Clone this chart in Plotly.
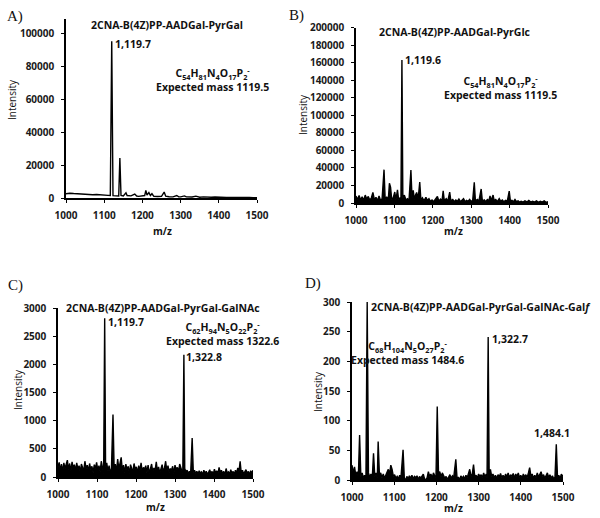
import plotly.graph_objects as go

# ---- data ----
A_MZ = [1000, 1010, 1020, 1030, 1040, 1050, 1060, 1070, 1080, 1090, 1100, 1110, 1116, 1119.7, 1123,
        1130, 1138, 1141, 1144, 1150, 1157, 1160, 1170, 1180, 1185, 1190, 1200, 1206, 1209, 1212,
        1217, 1221, 1225, 1230, 1240, 1250, 1257, 1261, 1270, 1280, 1290, 1295, 1300, 1310, 1315,
        1320, 1330, 1340, 1345, 1350, 1360, 1370, 1380, 1390, 1400, 1410, 1420, 1430, 1440, 1450,
        1460, 1470, 1480, 1490, 1500]
A_INT = [2600, 2900, 2700, 2500, 2600, 2300, 2200, 2000, 2100, 1800, 1700, 1600, 1500, 95500, 1400,
         1300, 1200, 24300, 1500, 1200, 3200, 1500, 1300, 2400, 1200, 1000, 1100, 1500, 4600, 1800,
         3300, 1500, 2600, 1000, 900, 1000, 3600, 1100, 800, 700, 1500, 700, 700, 1300, 700,
         600, 600, 1100, 600, 500, 700, 500, 500, 600, 400, 600, 400, 400, 300, 400,
         300, 300, 300, 250, 200]

B_MZ = [1000, 1004, 1008, 1012, 1016, 1020, 1024, 1028, 1032, 1036, 1040, 1044, 1048, 1052, 1056,
        1060, 1064, 1068, 1073, 1076, 1080, 1084, 1087, 1090, 1093, 1097, 1101, 1104, 1108, 1111,
        1115, 1117, 1119.6, 1122, 1126, 1130, 1134, 1138, 1143, 1146, 1149, 1152, 1155, 1158, 1162,
        1166, 1169, 1173, 1177, 1182, 1186, 1190, 1194, 1198, 1202, 1206, 1212, 1216, 1220, 1224,
        1227, 1230, 1235, 1239, 1244, 1247, 1252, 1256, 1260, 1264, 1268, 1272, 1276, 1280, 1284,
        1288, 1292, 1296, 1300, 1304, 1308, 1311, 1316, 1320, 1326, 1329, 1334, 1338, 1342, 1346,
        1349, 1352, 1357, 1360, 1364, 1368, 1373, 1377, 1381, 1385, 1390, 1394, 1399, 1402, 1406,
        1410, 1414, 1418, 1422, 1426, 1430, 1435, 1440, 1445, 1450, 1455, 1460, 1465, 1470, 1475,
        1480, 1485, 1490, 1495, 1500]
B_INT = [8000, 4000, 8500, 3500, 7000, 3000, 9000, 4500, 7500, 3000, 6000, 12000, 3500, 6500, 2500,
         8000, 3000, 5000, 38000, 4000, 7000, 3000, 22500, 18000, 4000, 6000, 12500, 3500, 15000, 4000,
         6000, 3000, 163000, 6000, 9000, 3500, 5000, 3000, 37500, 5000, 14500, 4000, 9000, 12000, 5000,
         24000, 3500, 6000, 2500, 6500, 3000, 5000, 2000, 3500, 1500, 4000, 7500, 2000, 4500, 2500,
         14000, 2500, 5000, 2000, 12500, 2500, 4000, 1500, 3500, 2000, 4500, 1500, 3500, 5000, 1500,
         3000, 2000, 4000, 1500, 3500, 23500, 2500, 4000, 2000, 16000, 2500, 3500, 1500, 4000, 2500,
         8000, 3000, 9000, 2500, 4000, 1500, 5000, 2000, 3500, 1500, 3000, 2000, 13500, 2500, 3000,
         1500, 4000, 1500, 2500, 1000, 2000, 1000, 2500, 1200, 3000, 1000, 2000, 1000, 2500, 800,
         2000, 1000, 2500, 800, 1500]

C_MZ = [1000, 1003, 1006, 1009, 1012, 1015, 1018, 1021, 1024, 1027, 1030, 1033, 1036, 1039, 1042,
        1045, 1048, 1051, 1054, 1057, 1060, 1063, 1066, 1069, 1072, 1075, 1078, 1081, 1084, 1087,
        1090, 1093, 1096, 1099, 1102, 1105, 1108, 1111, 1114, 1117, 1119.7, 1122, 1125, 1128, 1131,
        1134, 1137, 1141, 1144, 1147, 1150, 1153, 1156, 1159, 1162, 1165, 1168, 1171, 1174, 1177,
        1180, 1183, 1186, 1189, 1192, 1195, 1198, 1201, 1204, 1207, 1210, 1213, 1216, 1219, 1222,
        1225, 1228, 1231, 1234, 1237, 1240, 1243, 1246, 1249, 1252, 1255, 1258, 1261, 1264, 1267,
        1270, 1273, 1276, 1279, 1282, 1285, 1288, 1291, 1294, 1297, 1300, 1303, 1306, 1309, 1312,
        1315, 1318, 1320, 1322.8, 1325, 1328, 1331, 1334, 1337, 1340, 1344, 1347, 1350, 1353, 1356,
        1359, 1362, 1365, 1368, 1371, 1374, 1377, 1380, 1383, 1386, 1389, 1392, 1395, 1398, 1401,
        1404, 1407, 1410, 1413, 1416, 1419, 1422, 1425, 1428, 1431, 1434, 1437, 1440, 1443, 1446,
        1449, 1452, 1455, 1458, 1461, 1464, 1467, 1470, 1473, 1476, 1479, 1482, 1485, 1488, 1491,
        1494, 1497, 1500]
C_INT = [180, 260, 120, 230, 90, 250, 150, 210, 300, 130, 240, 100, 270, 160, 220,
         110, 250, 140, 200, 90, 230, 170, 120, 280, 150, 210, 100, 240, 130, 190,
         80, 220, 150, 260, 120, 200, 90, 280, 140, 60, 2820, 180, 250, 100, 200,
         70, 150, 1110, 120, 230, 90, 320, 140, 260, 350, 110, 210, 80, 230, 120,
         190, 60, 220, 150, 100, 240, 130, 180, 70, 200, 110, 250, 90, 170, 130,
         200, 80, 210, 60, 150, 230, 90, 160, 120, 270, 100, 180, 70, 150, 220,
         90, 160, 280, 110, 200, 80, 150, 120, 190, 60, 210, 130, 170, 90, 230,
         140, 100, 60, 2170, 150, 90, 120, 60, 100, 50, 690, 80, 120, 60, 100,
         50, 110, 70, 90, 40, 120, 60, 100, 50, 80, 130, 60, 100, 40, 140,
         70, 110, 50, 170, 80, 120, 60, 100, 40, 150, 70, 90, 50, 130, 60,
         100, 40, 120, 70, 160, 90, 280, 60, 120, 50, 90, 130, 60, 100, 40,
         110, 70, 120]

D_MZ = [1000, 1003, 1006, 1009, 1012, 1015, 1018, 1021, 1024, 1027, 1030, 1033, 1036, 1039, 1042,
        1045, 1048, 1051, 1054, 1057, 1060, 1062, 1065, 1068, 1071, 1074, 1077, 1080, 1083, 1086,
        1089, 1092, 1095, 1098, 1101, 1104, 1107, 1110, 1113, 1116, 1121, 1124, 1127, 1130, 1133,
        1136, 1139, 1142, 1145, 1148, 1151, 1154, 1157, 1160, 1163, 1166, 1169, 1172, 1175, 1178,
        1181, 1184, 1187, 1190, 1193, 1196, 1199, 1202, 1205, 1208, 1211, 1214, 1217, 1220, 1223,
        1226, 1229, 1232, 1235, 1238, 1241, 1246, 1249, 1252, 1255, 1258, 1261, 1264, 1267, 1270,
        1273, 1276, 1279, 1282, 1285, 1288, 1291, 1294, 1297, 1300, 1303, 1306, 1309, 1312, 1315,
        1318, 1320, 1322.7, 1325, 1328, 1331, 1334, 1337, 1340, 1343, 1346, 1349, 1352, 1355, 1358,
        1361, 1364, 1367, 1370, 1373, 1376, 1379, 1382, 1385, 1388, 1391, 1394, 1397, 1400, 1403,
        1406, 1409, 1412, 1415, 1418, 1421, 1424, 1427, 1430, 1433, 1436, 1439, 1442, 1445, 1448,
        1451, 1454, 1457, 1460, 1463, 1466, 1469, 1472, 1475, 1478, 1481, 1484.1, 1487, 1490, 1493,
        1496, 1500]
D_INT = [25, 12, 22, 8, 14, 5, 76, 6, 12, 4, 8, 2, 300, 12, 5,
         10, 3, 45, 6, 12, 4, 65, 8, 12, 4, 10, 3, 8, 14, 18,
         10, 25, 18, 6, 9, 3, 6, 2, 8, 4, 51, 3, 0, 6, 2,
         7, 3, 8, 2, 6, 4, 7, 1, 6, 3, 8, 10, 2, 0, 4,
         14, 6, 10, 3, 12, 7, 4, 124, 10, 14, 5, 12, 8, 3, 6,
         1, 5, 9, 3, 7, 4, 35, 2, 5, 0, 7, 3, 6, 2, 8,
         4, 10, 18, 6, 10, 26, 5, 8, 3, 10, 6, 9, 4, 12, 5,
         10, 4, 241, 12, 18, 6, 10, 4, 8, 2, 9, 5, 11, 4, 8,
         3, 10, 5, 12, 4, 9, 6, 11, 3, 10, 6, 12, 4, 8, 3,
         10, 5, 9, 4, 12, 21, 6, 10, 3, 8, 4, 12, 5, 10, 14,
         6, 9, 3, 8, 12, 4, 9, 3, 7, 2, 5, 60, 4, 8, 2,
         10, 6]

X_TICKS = [1000, 1100, 1200, 1300, 1400, 1500]

W, H = 600, 518
FONT = "Open Sans"


def px(x):
    return x / W


def py(y):
    return 1 - y / H


# panel boxes in pixels: x0, x1, y(bottom), y(top), y max, y step
PANELS = [
    (66, 257, 198, 19, 109000, 20000),
    (356, 548, 203, 27.5, 200000, 20000),
    (58, 253, 477, 308, 3000, 500),
    (352, 563, 480, 302, 300, 50),
]

fig = go.Figure()

spectra = [(A_MZ, A_INT, None), (B_MZ, B_INT, 'tozeroy'), (C_MZ, C_INT, 'tozeroy'), (D_MZ, D_INT, 'tozeroy')]

for i, (mz, inten, fill) in enumerate(spectra):
    n = '' if i == 0 else str(i + 1)
    fig.add_trace(go.Scatter(x=mz, y=inten, mode='lines', xaxis='x' + n, yaxis='y' + n,
                             line=dict(color='#000000', width=1.4), fill=fill, fillcolor='#000000',
                             hoverinfo='skip', showlegend=False))

layout = {}
for i, (x0, x1, yb, yt, ymax, dy) in enumerate(PANELS):
    n = '' if i == 0 else str(i + 1)
    layout['xaxis' + n] = dict(domain=[px(x0), px(x1)], anchor='y' + n, range=[1000, 1500],
                               tickvals=X_TICKS, showline=True, linecolor='#000000', linewidth=1.5,
                               ticks='outside', ticklen=3, tickcolor='#000000', showgrid=False,
                               zeroline=False, ticklabelstandoff=4, automargin=False,
                               tickfont=dict(family=FONT, size=10, color='#1a1a1a', weight='bold'))
    layout['yaxis' + n] = dict(domain=[py(yb), py(yt)], anchor='x' + n, range=[0, ymax], dtick=dy,
                               tickformat='d', showline=True, linecolor='#000000', linewidth=1.5,
                               ticks='outside', ticklen=3, tickcolor='#000000', showgrid=False,
                               zeroline=False, ticklabelstandoff=5, automargin=False,
                               tickfont=dict(family=FONT, size=10, color='#1a1a1a', weight='bold'))


def note(text, x, y, xanchor='center', size=10.5, bold=True, family=FONT, angle=0):
    return dict(text=text, x=px(x), y=py(y), xref='paper', yref='paper', xanchor=xanchor,
                yanchor='middle', showarrow=False, textangle=angle,
                font=dict(family=family, size=size, color='#111111', weight='bold' if bold else 'normal'))


SERIF = "Liberation Serif"
annotations = [
    note('A)', 5, 16, 'left', 15, False, SERIF),
    note('B)', 287, 15, 'left', 15, False, SERIF),
    note('C)', 6, 285, 'left', 15, False, SERIF),
    note('D)', 303, 283, 'left', 15, False, SERIF),

    note('2CNA-B(4Z)PP-AADGal-PyrGal', 167, 25),
    note('1,119.7', 113, 44, 'left'),
    note('C<sub>54</sub>H<sub>81</sub>N<sub>4</sub>O<sub>17</sub>P<sub>2</sub><sup>-</sup>'
         '<br>Expected mass 1119.5', 212, 79),
    note('Intensity', 12, 100, size=10, bold=False, angle=-90),
    note('m/z', 162, 231, size=10),

    note('2CNA-B(4Z)PP-AADGal-PyrGlc', 455, 32),
    note('1,119.6', 403, 60, 'left'),
    note('C<sub>54</sub>H<sub>81</sub>N<sub>4</sub>O<sub>17</sub>P<sub>2</sub><sup>-</sup>'
         '<br>Expected mass 1119.5', 500, 87),
    note('Intensity', 303, 115, size=10, bold=False, angle=-90),
    note('m/z', 453, 231, size=10),

    note('2CNA-B(4Z)PP-AADGal-PyrGal-GalNAc', 163, 308),
    note('1,119.7', 106, 322, 'left'),
    note('C<sub>62</sub>H<sub>94</sub>N<sub>5</sub>O<sub>22</sub>P<sub>2</sub><sup>-</sup>'
         '<br>Expected mass 1322.6', 222, 333),
    note('1,322.8', 184, 357, 'left'),
    note('Intensity', 18, 390, size=10, bold=False, angle=-90),
    note('m/z', 155, 507, size=10),

    note('2CNA-B(4Z)PP-AADGal-PyrGal-GalNAc-Gal<i>f</i>', 369, 307, 'left'),
    note('1,322.7', 490, 339, 'left'),
    note('C<sub>68</sub>H<sub>104</sub>N<sub>5</sub>O<sub>27</sub>P<sub>2</sub><sup>-</sup>'
         '<br>Expected mass 1484.6', 407, 352),
    note('1,484.1', 552, 433),
    note('Intensity', 318, 392, size=10, bold=False, angle=-90),
    note('m/z', 453, 508, size=10),
]

fig.update_layout(width=W, height=H, margin=dict(l=0, r=0, t=0, b=0), plot_bgcolor='#ffffff',
                  paper_bgcolor='#ffffff', annotations=annotations, **layout)

# the page's default body margin would push the 600x518 figure off the window
fig.write_html("out.html", config={'displayModeBar': False},
               post_script="document.body.style.margin='0';")
